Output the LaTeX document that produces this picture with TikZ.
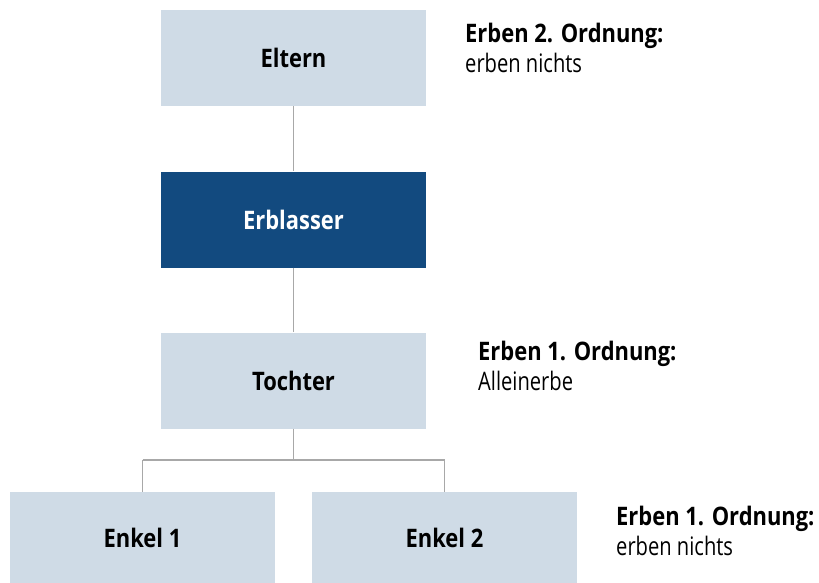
\documentclass[tikz,border=0pt]{standalone}
\usepackage{fontspec}
\setmainfont{Open Sans}[FakeStretch=0.86]
\newfontfamily\regfont{Open Sans}[FakeStretch=0.79]
\definecolor{boxlight}{HTML}{CFDBE6}
\definecolor{boxdark}{HTML}{124A7F}
\definecolor{linegray}{HTML}{A8A8A8}
\begin{document}
\begin{tikzpicture}[x=1pt,y=-1pt,
  person/.style={fill=boxlight,draw=none,minimum width=265pt,minimum height=96pt,inner sep=0pt,font=\fontsize{25.5}{30}\selectfont\bfseries,text=black},
  self/.style={person,fill=boxdark,text=white},
  conn/.style={draw=linegray,line width=1.5pt},
  head/.style={anchor=base west,inner sep=0pt,font=\fontsize{25.5}{30}\selectfont\bfseries},
  sub/.style={anchor=base west,inner sep=0pt,font=\regfont\fontsize{25.5}{30}\selectfont}]
\useasboundingbox (0,0) rectangle (819,583);
\node[person] (eltern) at (293.5,58) {Eltern};
\node[self] (erblasser) at (293.5,219.5) {Erblasser};
\node[person] (tochter) at (293.5,380.5) {Tochter};
\node[person,minimum height=92pt] (enkel1) at (142.5,538) {Enkel 1};
\node[person,minimum height=92pt] (enkel2) at (444.5,538) {Enkel 2};
\coordinate (split) at (293.5,460);
\coordinate (splitl) at (142.5,460);
\coordinate (splitr) at (444.5,460);
\draw[conn] (eltern.south) -- (erblasser.north);
\draw[conn] (erblasser.south) -- (tochter.north);
\draw[conn] (tochter.south) -- (split);
\draw[conn] (splitl) -- (splitr);
\draw[conn] (splitl) -- (enkel1.north);
\draw[conn] (splitr) -- (enkel2.north);
\node[head] (h1) at (465,43) {Erben 2. Ordnung:};
\node[sub] (s1) at (465,73) {erben nichts};
\node[head] (h2) at (478,360) {Erben 1. Ordnung:};
\node[sub] (s2) at (478,390) {Alleinerbe};
\node[head] (h3) at (616,525) {Erben 1. Ordnung:};
\node[sub] (s3) at (616,555) {erben nichts};
\end{tikzpicture}
\end{document}
